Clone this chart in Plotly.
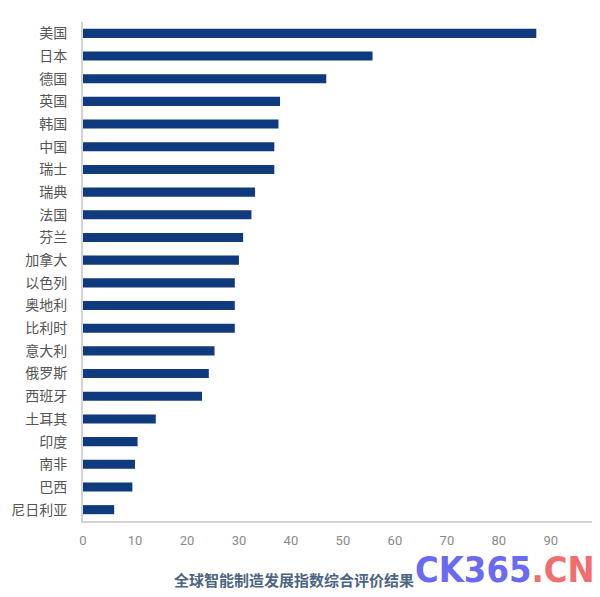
import plotly.graph_objects as go

countries = ["美国", "日本", "德国", "英国", "韩国", "中国", "瑞士", "瑞典", "法国", "芬兰",
             "加拿大", "以色列", "奥地利", "比利时", "意大利", "俄罗斯", "西班牙", "土耳其",
             "印度", "南非", "巴西", "尼日利亚"]
scores = [87.2, 55.7, 46.8, 37.9, 37.6, 36.8, 36.8, 33.1, 32.4, 30.8,
          30.0, 29.2, 29.2, 29.2, 25.3, 24.2, 22.9, 14.0, 10.5, 10.0, 9.5, 6.0]
x_ticks = [0, 10, 20, 30, 40, 50, 60, 70, 80, 90]
title_text = "全球智能制造发展指数综合评价结果"

FONT = "Noto Sans CJK SC"

fig = go.Figure(go.Bar(
    x=scores, y=countries, orientation="h",
    marker=dict(color="#0f3a7d", line=dict(width=0)),
    width=0.4,
))

# page body has an 8px default margin, so the figure is sized/offset to compensate
fig.update_layout(
    width=592, height=589,
    margin=dict(l=75, r=6, t=14, b=76),
    paper_bgcolor="white", plot_bgcolor="white",
    showlegend=False,
    font=dict(family=FONT),
    xaxis=dict(
        range=[0, 98.3], tickvals=x_ticks, ticktext=[str(v) for v in x_ticks],
        showgrid=False, zeroline=False, automargin=False,
        showline=True, linecolor="#d4d4d4", linewidth=2,
        ticks="", ticklabelstandoff=6,
        tickfont=dict(family="Roboto, " + FONT, size=13, color="#8a8a8a"),
    ),
    yaxis=dict(
        categoryorder="array", categoryarray=countries, autorange="reversed",
        showgrid=False, zeroline=False, automargin=False,
        showline=True, linecolor="#d4d4d4", linewidth=2,
        ticks="", ticklabelstandoff=11,
        tickfont=dict(family=FONT, size=14, color="#555555"),
    ),
    annotations=[
        dict(text="<b>" + title_text + "</b>", xref="paper", yref="paper",
             x=0.412, y=-0.118, xanchor="center", yanchor="middle", showarrow=False,
             font=dict(family=FONT, size=15, color="#4d6584")),
        dict(text="<b><span style='color:#6a6af2'>CK365</span><span style='color:#f26d6d'>.CN</span></b>",
             xref="paper", yref="paper", x=0.825, y=-0.097, xanchor="center", yanchor="middle",
             showarrow=False,
             font=dict(family="DejaVu Sans Condensed, Liberation Sans Narrow, Liberation Sans, sans-serif", size=36)),
    ],
)

fig.write_html("out.html")
